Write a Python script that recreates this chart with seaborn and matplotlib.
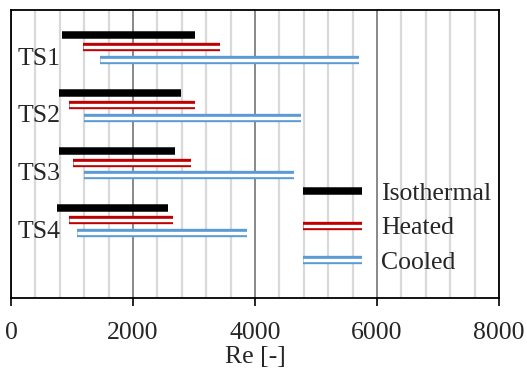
import numpy as np
import pandas as pd
import matplotlib
matplotlib.use("Agg")
import matplotlib.pyplot as plt
import matplotlib.patheffects as pe
from matplotlib.lines import Line2D
from matplotlib.ticker import MultipleLocator
import seaborn as sns

# ---- data ----
sections = ["TS1", "TS2", "TS3", "TS4"]
cases = ["Isothermal", "Heated", "Cooled"]
iso_start = [840, 790, 780, 750]
iso_end = [3020, 2790, 2690, 2570]
heat_start = [1180, 950, 1020, 950]
heat_end = [3430, 3020, 2950, 2650]
cool_start = [1460, 1190, 1190, 1080]
cool_end = [5710, 4750, 4640, 3870]
x_ticks = [0, 2000, 4000, 6000, 8000]

# ---- styling ----
colors = {"Isothermal": "#000000", "Heated": "#C00000", "Cooled": "#5B9BD5"}
group_pos = [4, 3, 2, 1]
offsets = {"Isothermal": 0.56, "Heated": 0.35, "Cooled": 0.13}

ranges = {
    "Isothermal": (iso_start, iso_end),
    "Heated": (heat_start, heat_end),
    "Cooled": (cool_start, cool_end),
}
rows = []
for case in cases:
    s_list, e_list = ranges[case]
    for i, ts in enumerate(sections):
        y = group_pos[i] + offsets[case]
        seg = f"{ts}-{case}"
        rows.append(dict(section=ts, case=case, seg=seg, Re=s_list[i], y=y))
        rows.append(dict(section=ts, case=case, seg=seg, Re=e_list[i], y=y))
df = pd.DataFrame(rows)

sns.set_theme(style="white")
plt.rcParams["font.family"] = ["Liberation Serif", "DejaVu Serif"]
FS = 18.5

fig = plt.figure(figsize=(5.27, 3.73), dpi=100)
ax = fig.add_axes([11 / 527, 75 / 373, 488 / 527, 288 / 373])

def effects(case):
    if case == "Isothermal":
        return dict(lw=5.4, path_effects=None)
    return dict(lw=6.0, path_effects=[pe.Stroke(linewidth=6.0, foreground=colors[case]),
                                      pe.Stroke(linewidth=2.4, foreground="white")])

for case in cases:
    n0 = len(ax.lines)
    st = effects(case)
    sns.lineplot(data=df[df.case == case], x="Re", y="y", units="seg", estimator=None,
                 sort=False, color=colors[case], lw=st["lw"], ax=ax, legend=False,
                 solid_capstyle="butt", zorder=3)
    for ln in ax.lines[n0:]:
        if st["path_effects"]:
            ln.set_path_effects(st["path_effects"])

for i, ts in enumerate(sections):
    ax.text(110, group_pos[i] + 0.05, ts, fontsize=FS, ha="left", va="baseline", zorder=4)

ax.set_xlim(0, 8000)
ax.set_ylim(0, 5)
ax.set_xticks(x_ticks)
ax.set_xticklabels([str(t) for t in x_ticks])
ax.xaxis.set_minor_locator(MultipleLocator(400))
ax.set_yticks([])
ax.set_ylabel("")
ax.set_xlabel("Re [-]", fontsize=FS, labelpad=1.5)
ax.tick_params(axis="x", which="major", direction="out", length=6, width=1.2,
               color="black", labelsize=FS, pad=11.5, bottom=True)
ax.tick_params(axis="x", which="minor", length=0)
ax.set_axisbelow(True)
ax.grid(True, axis="x", which="minor", color="#d9d9d9", lw=1.6)
ax.grid(True, axis="x", which="major", color="#7f7f7f", lw=1.3)
ax.grid(False, axis="y")
for sp in ax.spines.values():
    sp.set_visible(True)
    sp.set_color("black")
    sp.set_linewidth(1.3)

handles = []
for case in cases:
    st = effects(case)
    h = Line2D([0], [0], color=colors[case], lw=st["lw"], solid_capstyle="butt")
    if st["path_effects"]:
        h.set_path_effects(st["path_effects"])
    handles.append(h)
ax.legend(handles, cases, loc="center left", bbox_to_anchor=(292 / 488, 70 / 288),
          frameon=False, fontsize=FS, handlelength=2.3, handletextpad=0.75,
          labelspacing=0.45, borderpad=0, borderaxespad=0)

fig.savefig("out.png", dpi=100)
